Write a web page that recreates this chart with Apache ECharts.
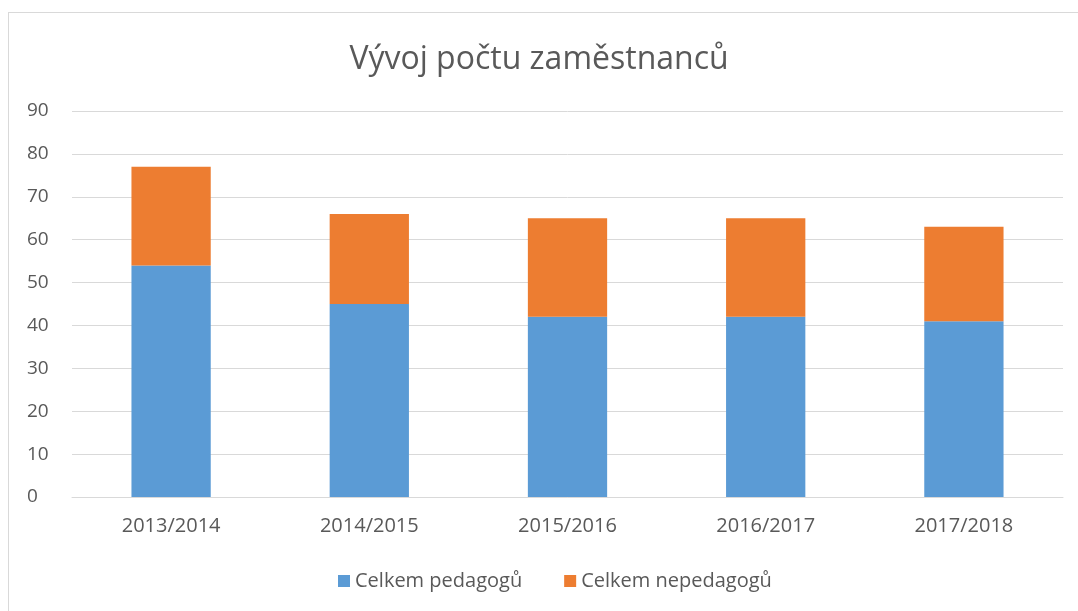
<!DOCTYPE html>
<html>
<head>
<meta charset="utf-8">
<script src="https://cdn.jsdelivr.net/npm/echarts@6/dist/echarts.min.js"></script>
<style>
    html,body{margin:0;padding:0;background:#fff;}
    .frame{position:absolute;left:8px;top:12px;width:1100px;height:640px;border:1px solid #d9d9d9;box-sizing:border-box;}
    #chart{position:absolute;left:0;top:0;width:1078px;height:611px;}
</style>
</head>
<body>
<div class="frame"></div>
<div id="chart"></div>
<script>
    // data
    var categories = ['2013/2014', '2014/2015', '2015/2016', '2016/2017', '2017/2018'];
    var pedagogu = [54, 45, 42, 42, 41];
    var nepedagogu = [23, 21, 23, 23, 22];
    var seriesNames = ['Celkem pedagogů', 'Celkem nepedagogů'];
    var colorList = ['#5b9bd5', '#ed7d31'];

    var font = '"Open Sans", "Noto Sans", sans-serif';

    var myChart = echarts.init(document.getElementById('chart'));
    var option = {
        animation: false,
        title: {
            text: 'Vývoj počtu zaměstnanců',
            left: 'center',
            top: 39,
            textStyle: {
                color: '#595959',
                fontSize: 32,
                fontWeight: 'normal',
                fontFamily: font
            }
        },
        legend: {
            data: seriesNames,
            bottom: 15,
            left: 333,
            itemWidth: 12,
            itemHeight: 12,
            itemGap: 42,
            icon: 'rect',
            textStyle: {
                color: '#595959',
                fontSize: 20,
                fontFamily: font
            }
        },
        grid: {
            left: 72,
            right: 15,
            top: 111,
            bottom: 114
        },
        xAxis: {
            type: 'category',
            data: categories,
            axisLine: {lineStyle: {color: '#d9d9d9'}},
            axisTick: {show: false},
            axisLabel: {
                color: '#595959',
                fontSize: 20,
                fontFamily: font,
                margin: 19
            }
        },
        yAxis: {
            type: 'value',
            min: 0,
            max: 90,
            interval: 10,
            axisLine: {show: false},
            axisTick: {show: false},
            axisLabel: {
                color: '#595959',
                fontSize: 19,
                fontFamily: font,
                margin: 45,
                align: 'left'
            },
            splitLine: {lineStyle: {color: '#d9d9d9', width: 1}}
        },
        series: []
    };
    var seriesData = [pedagogu, nepedagogu];
    for (var i = 0; i < seriesData.length; i++) {
        option.series.push({
            name: seriesNames[i],
            type: 'bar',
            stack: 'total',
            barWidth: '40%',
            data: seriesData[i],
            itemStyle: {color: colorList[i]}
        });
    }
    myChart.setOption(option);
</script>
</body>
</html>
